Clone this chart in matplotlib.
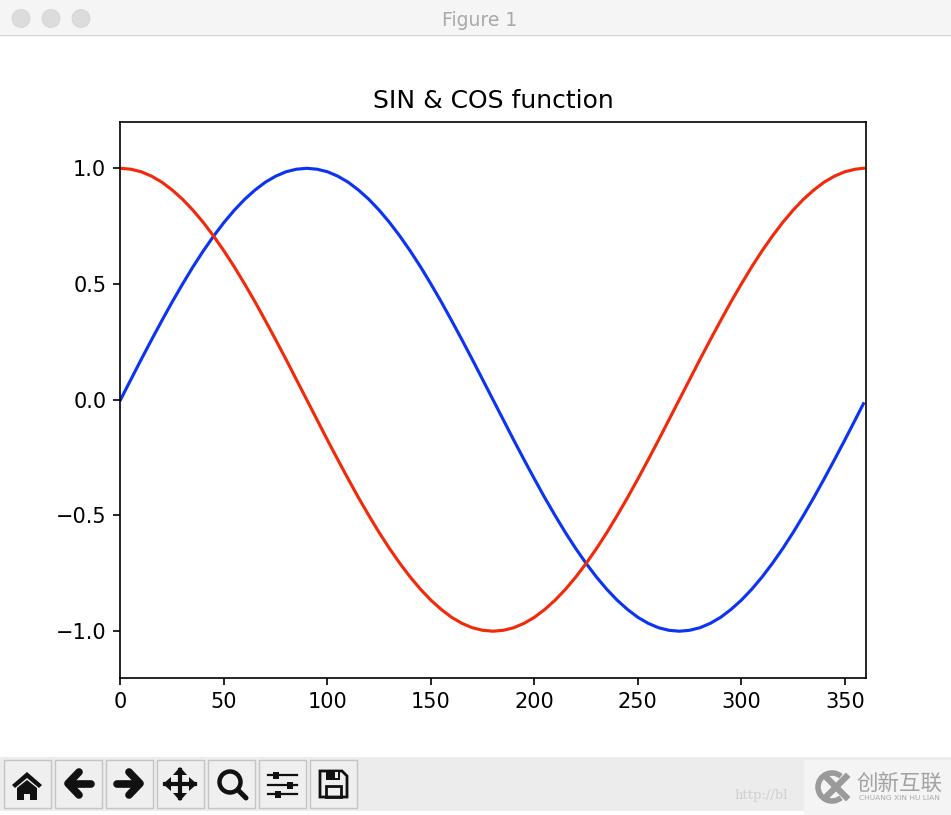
"""Sine and cosine curves, inside a screenshot of the interactive window."""

import matplotlib
matplotlib.use("Agg")
import matplotlib.pyplot as plt
from matplotlib.patches import Arc, Circle, Polygon, Rectangle

plt.rcParams["font.family"] = ["DejaVu Sans", "Noto Sans CJK SC"]

degrees = [0, 5, 10, 15, 20, 25, 30, 35, 40, 45, 50, 55,
           60, 65, 70, 75, 80, 85, 90, 95, 100, 105, 110, 115,
           120, 125, 130, 135, 140, 145, 150, 155, 160, 165, 170, 175,
           180, 185, 190, 195, 200, 205, 210, 215, 220, 225, 230, 235,
           240, 245, 250, 255, 260, 265, 270, 275, 280, 285, 290, 295,
           300, 305, 310, 315, 320, 325, 330, 335, 340, 345, 350, 355, 359]
sin_values = [0.0, 0.087, 0.174, 0.259, 0.342, 0.423, 0.5, 0.574, 0.643, 0.707, 0.766, 0.819,
              0.866, 0.906, 0.94, 0.966, 0.985, 0.996, 1.0, 0.996, 0.985, 0.966, 0.94, 0.906,
              0.866, 0.819, 0.766, 0.707, 0.643, 0.574, 0.5, 0.423, 0.342, 0.259, 0.174, 0.087,
              0.0, -0.087, -0.174, -0.259, -0.342, -0.423, -0.5, -0.574, -0.643, -0.707, -0.766, -0.819,
              -0.866, -0.906, -0.94, -0.966, -0.985, -0.996, -1.0, -0.996, -0.985, -0.966, -0.94, -0.906,
              -0.866, -0.819, -0.766, -0.707, -0.643, -0.574, -0.5, -0.423, -0.342, -0.259, -0.174, -0.087, -0.017]
cos_values = [1.0, 0.996, 0.985, 0.966, 0.94, 0.906, 0.866, 0.819, 0.766, 0.707, 0.643, 0.574,
              0.5, 0.423, 0.342, 0.259, 0.174, 0.087, 0.0, -0.087, -0.174, -0.259, -0.342, -0.423,
              -0.5, -0.574, -0.643, -0.707, -0.766, -0.819, -0.866, -0.906, -0.94, -0.966, -0.985, -0.996,
              -1.0, -0.996, -0.985, -0.966, -0.94, -0.906, -0.866, -0.819, -0.766, -0.707, -0.643, -0.574,
              -0.5, -0.423, -0.342, -0.259, -0.174, -0.087, 0.0, 0.087, 0.174, 0.259, 0.342, 0.423,
              0.5, 0.574, 0.643, 0.707, 0.766, 0.819, 0.866, 0.906, 0.94, 0.966, 0.985, 0.996, 1.0]
x_ticks = [0, 50, 100, 150, 200, 250, 300, 350]
y_ticks = [-1.0, -0.5, 0.0, 0.5, 1.0]

W, H = 951, 815
ICON = "#111111"


def add_rect(ax, x0, y0, x1, y1, **kw):
    ax.add_patch(Rectangle((x0, y0), x1 - x0, y1 - y0, **kw))


def draw_window(ax):
    # title bar
    add_rect(ax, 0, 0, W, 34, fc="#f5f5f5", ec="none")
    ax.plot([0, W], [34.5, 34.5], color="#d4d4d4", lw=1)
    for cx in (21, 51, 81):
        ax.add_patch(Circle((cx, 18.5), 9, fc="#dcdcdc", ec="#d0d0d0", lw=0.5))
    ax.text(480, 20, "Figure 1", color="#a8a8a8", fontsize=13.5, ha="center", va="center")

    # toolbar
    add_rect(ax, 0, 757, W, 811, fc="#ececec", ec="none")
    for left in (4, 55, 106, 157, 208, 259, 310):
        add_rect(ax, left, 760, left + 47, 808, fc="#efefef", ec="#c4c4c4", lw=1)

    # home
    ax.add_patch(Polygon([(12, 785), (27, 772), (42, 785), (39, 788), (27, 778), (15, 788)], fc=ICON))
    ax.add_patch(Polygon([(17, 788), (27, 780), (37, 788), (37, 800), (30, 800), (30, 794),
                          (24, 794), (24, 800), (17, 800)], fc=ICON))
    # back and forward
    arrow = dict(color=ICON, lw=5.5, solid_capstyle="round", solid_joinstyle="round")
    ax.plot([91, 70], [783.5, 783.5], **arrow)
    ax.plot([79, 68, 79], [772, 783.5, 795], **arrow)
    ax.plot([117, 138], [783.5, 783.5], **arrow)
    ax.plot([129, 140, 129], [772, 783.5, 795], **arrow)
    # pan
    ax.plot([165, 195], [784, 784], color=ICON, lw=3)
    ax.plot([180, 180], [770, 798], color=ICON, lw=3)
    for tip, a, b in [((180, 767), (173, 775), (187, 775)), ((180, 801), (173, 793), (187, 793)),
                      ((163, 784), (171, 777), (171, 791)), ((197, 784), (189, 777), (189, 791))]:
        ax.add_patch(Polygon([tip, a, b], fc=ICON))
    # zoom
    ax.add_patch(Circle((230, 782), 10.5, fc="none", ec=ICON, lw=3.2))
    ax.plot([238, 246], [790, 798], color=ICON, lw=3.6, solid_capstyle="round")
    # configure
    for y, knob in ((775, 276), (785, 290), (794, 278)):
        ax.plot([268, 297], [y, y], color=ICON, lw=1.6)
        add_rect(ax, knob - 3, y - 3.5, knob + 3, y + 3.5, fc=ICON, ec="none")
    # save
    ax.add_patch(Polygon([(320, 771), (342, 771), (347, 776), (347, 797), (320, 797)],
                         closed=True, fc="none", ec=ICON, lw=2))
    add_rect(ax, 326, 771, 340, 780, fc=ICON, ec="none")
    add_rect(ax, 335, 772, 338, 778, fc="#efefef", ec="none")
    add_rect(ax, 326, 786, 341, 797, fc="none", ec=ICON, lw=2)

    # watermark
    ax.text(735, 796, "http://bl", color="#d0d0d0", fontsize=9.5, family="DejaVu Serif",
            ha="left", va="center")
    add_rect(ax, 804, 760, W, H, fc="#f4f4f4", ec="none")
    ax.add_patch(Arc((832, 787), 28, 28, theta1=50, theta2=310, ec="#9a9a9a", lw=4))
    ax.plot([826, 846], [777, 797], color="#9a9a9a", lw=4.5)
    ax.plot([826, 846], [797, 777], color="#9a9a9a", lw=4.5)
    ax.text(899, 784, "创新互联", color="#a2a2a2", fontsize=15.5, ha="center", va="center",
            family=["Noto Sans CJK SC", "DejaVu Sans"])
    ax.text(899, 798, "CHUANG XIN HU LIAN", color="#ababab", fontsize=5.4, ha="center", va="center")


fig = plt.figure(figsize=(W / 100, H / 100), dpi=100)
ax = fig.add_axes([120.5 / W, 1 - 677.5 / H, 745 / W, 555.5 / H])
ax.plot(degrees, sin_values, color="#0c34f2", lw=2.25)
ax.plot(degrees, cos_values, color="#f22a0c", lw=2.25)
ax.set_xlim(0, 360)
ax.set_ylim(-1.2, 1.2)
ax.set_xticks(x_ticks)
ax.set_yticks(y_ticks)
ax.tick_params(labelsize=15, length=5.25, width=1.2, pad=5)
ax.set_title("SIN & COS function", fontsize=18, pad=9.8)
for spine in ax.spines.values():
    spine.set_linewidth(1.2)

chrome = fig.add_axes([0, 0, 1, 1], zorder=5)
chrome.set_xlim(0, W)
chrome.set_ylim(H, 0)
chrome.axis("off")
draw_window(chrome)

fig.savefig("out.png", dpi=100)
plt.close(fig)
